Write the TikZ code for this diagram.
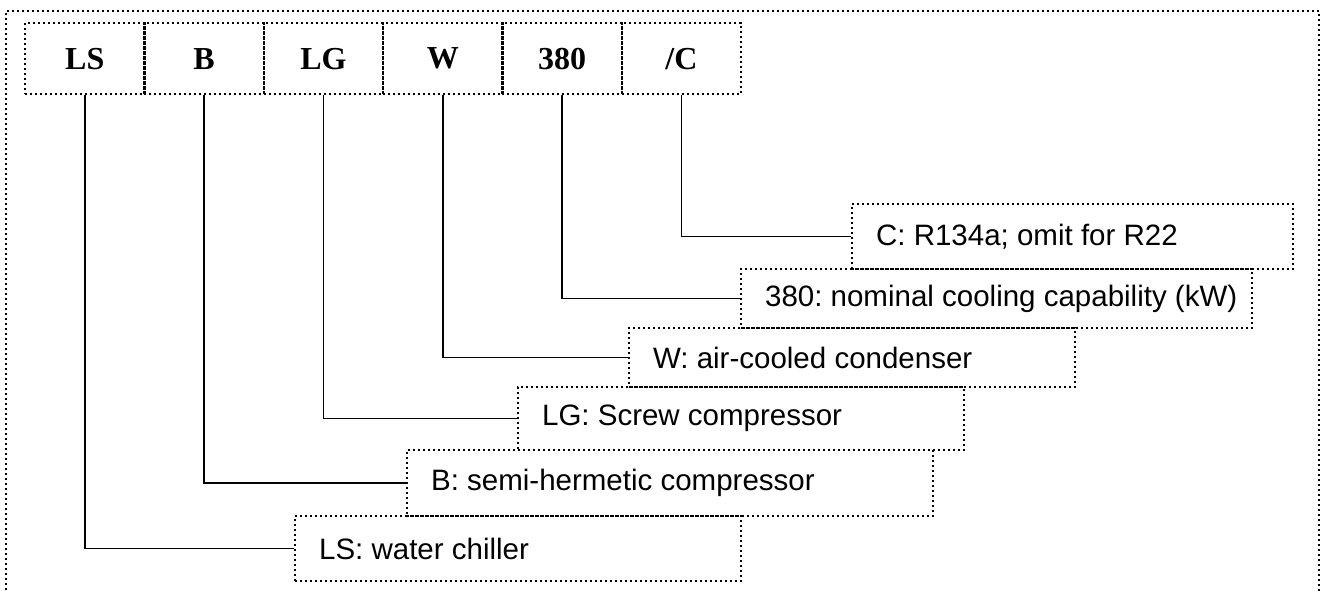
\documentclass[tikz,border=0pt]{standalone}
\usepackage{fontspec}
\setmainfont{Liberation Serif}
\newfontfamily\lblfont{Liberation Sans}
\newcommand{\lbltext}[2]{\makebox[#1][l]{#2}}
\frenchspacing
\begin{document}
\begin{tikzpicture}[x=1pt,y=-1pt,
  dots/.style={line width=2.2pt, dash pattern=on 2pt off 3pt},
  topbox/.style={dots, draw, minimum width=119.33pt, minimum height=71pt, inner sep=0pt,
     anchor=north west, font=\fontsize{32}{36}\selectfont\bfseries},
  lbl/.style={dots, draw, inner xsep=24pt, inner ysep=0pt, anchor=north west,
     font=\lblfont\fontsize{29.5}{34}\selectfont},
  conn/.style={line width=1.7pt}]
\useasboundingbox (0,0) rectangle (1323,593);
\draw[dots] (6,610) -- (6,11) -- (1319,11) -- (1319,610);
% top code boxes
\node[topbox] (tLS) at (24,22) {LS};
\node[topbox] (tB) at (143.33,22) {B};
\node[topbox] (tLG) at (262.67,22) {LG};
\node[topbox] (tW) at (382,22) {W};
\node[topbox] (t380) at (501.33,22) {380};
\node[topbox] (tC) at (620.67,22) {/C};
% label boxes
\node[lbl, minimum height=65pt] (lC) at (851,203) {\lbltext{393pt}{C: R134a; omit for R22}};
\node[lbl, minimum height=59pt] (l380) at (740,268) {\lbltext{463pt}{380: nominal cooling capability (kW)}};
\node[lbl, minimum height=59pt] (lW) at (628,327) {\lbltext{398pt}{W: air-cooled condenser}};
\node[lbl, minimum height=63pt] (lLG) at (517,386) {\lbltext{398pt}{LG: Screw compressor}};
\node[lbl, minimum height=66pt] (lB) at (406,449) {\lbltext{478pt}{B: semi-hermetic compressor}};
\node[lbl, minimum height=65pt] (lLS) at (294,515) {\lbltext{398pt}{LS: water chiller}};
% connectors
\draw[conn] (tC.south) |- (lC.west);
\draw[conn] (t380.south) |- (l380.west);
\draw[conn] (tW.south) |- (lW.west);
\draw[conn] (tLG.south) |- (lLG.west);
\draw[conn] (tB.south) |- (lB.west);
\draw[conn] (tLS.south) |- (lLS.west);
\end{tikzpicture}
\end{document}
